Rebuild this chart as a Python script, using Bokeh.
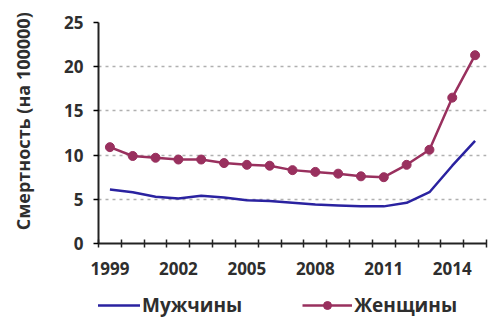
from bokeh.plotting import figure
from bokeh.models import Range1d, FixedTicker, Legend, LegendItem
from bokeh.layouts import column
from bokeh.embed import file_html
from bokeh.resources import INLINE

years = list(range(1999, 2016))
men = [6.1, 5.8, 5.3, 5.1, 5.4, 5.2, 4.9, 4.8, 4.6, 4.4, 4.3, 4.2, 4.2, 4.6, 5.8, 8.8, 11.6]
women = [10.9, 9.9, 9.7, 9.5, 9.5, 9.1, 8.9, 8.8, 8.3, 8.1, 7.9, 7.6, 7.5, 8.9, 10.6, 16.5, 21.3]
x_labels = [1999, 2002, 2005, 2008, 2011, 2014]
y_ticks = [0, 5, 10, 15, 20, 25]
series_names = ["Мужчины", "Женщины"]

FONT = "Open Sans"
MEN_C = "#2a22a0"
WOMEN_C = "#99305e"
TXT_C = "#2e2e2e"

p = figure(frame_width=388, frame_height=221, output_backend="svg", toolbar_location=None,
           x_range=Range1d(years[0] - 0.5, years[-1] + 0.5), y_range=Range1d(0, 25),
           min_border_left=98, min_border_right=4, min_border_top=22, min_border_bottom=44)
p.outline_line_color = None
p.background_fill_color = "white"

p.line(years, men, line_color=MEN_C, line_width=2.5)
p.line(years, women, line_color=WOMEN_C, line_width=2.5)
p.scatter(years, women, size=9, fill_color=WOMEN_C, line_color=WOMEN_C)

p.xaxis.ticker = FixedTicker(ticks=x_labels, minor_ticks=[y - 0.5 for y in years] + [years[-1] + 0.5])
p.xaxis.major_tick_line_color = None
p.xaxis.minor_tick_in = 4
p.xaxis.minor_tick_out = 4
p.xaxis.minor_tick_line_color = "#222222"
p.xaxis.minor_tick_line_width = 1.5
p.yaxis.ticker = FixedTicker(ticks=y_ticks)
p.yaxis.minor_tick_line_color = None
p.yaxis.major_tick_in = 0
p.yaxis.major_tick_out = 5
p.yaxis.major_tick_line_width = 1.5
for ax in (p.xaxis, p.yaxis):
    ax.axis_line_color = "#222222"
    ax.axis_line_width = 2
    ax.major_label_text_font = FONT
    ax.major_label_text_font_style = "bold"
    ax.major_label_text_font_size = "17px"
    ax.major_label_text_color = TXT_C
p.xaxis.major_label_standoff = 12
p.yaxis.major_label_standoff = 10
p.yaxis.axis_label = "\u00a0" * 5 + "Смертность (на 100000)"
p.yaxis.axis_label_text_font = FONT
p.yaxis.axis_label_text_font_style = "bold"
p.yaxis.axis_label_text_font_size = "18px"
p.yaxis.axis_label_text_color = TXT_C
p.yaxis.axis_label_standoff = 26

p.xgrid.grid_line_color = None
p.ygrid.grid_line_color = "#b0b0b0"
p.ygrid.grid_line_dash = "3 4"
p.ygrid.grid_line_width = 1.5

# legend strip (glyphs drawn outside its visible range, only the legend shows)
q = figure(width=490, height=31, output_backend="svg", toolbar_location=None,
           x_range=Range1d(0, 1), y_range=Range1d(100, 101),
           min_border_left=0, min_border_right=0, min_border_top=0, min_border_bottom=0)
q.axis.visible = False
q.grid.visible = False
q.outline_line_color = None
lm = q.line(years, men, line_color=MEN_C, line_width=2.5)
lw = q.line(years, women, line_color=WOMEN_C, line_width=2.5)
cw = q.scatter(years, women, size=9, fill_color=WOMEN_C, line_color=WOMEN_C)
legend = Legend(items=[LegendItem(label=series_names[0], renderers=[lm]),
                       LegendItem(label=series_names[1], renderers=[lw, cw])],
                orientation="horizontal", location=(-8, 0),
                label_text_font=FONT, label_text_font_size="19px", label_text_font_style="bold",
                label_text_color=TXT_C, label_standoff=2, background_fill_alpha=0,
                glyph_width=50, spacing=60, border_line_color=None, padding=0, margin=0)
q.add_layout(legend, "center")

open("out.html", "w").write(file_html(column(p, q, spacing=0), INLINE))
